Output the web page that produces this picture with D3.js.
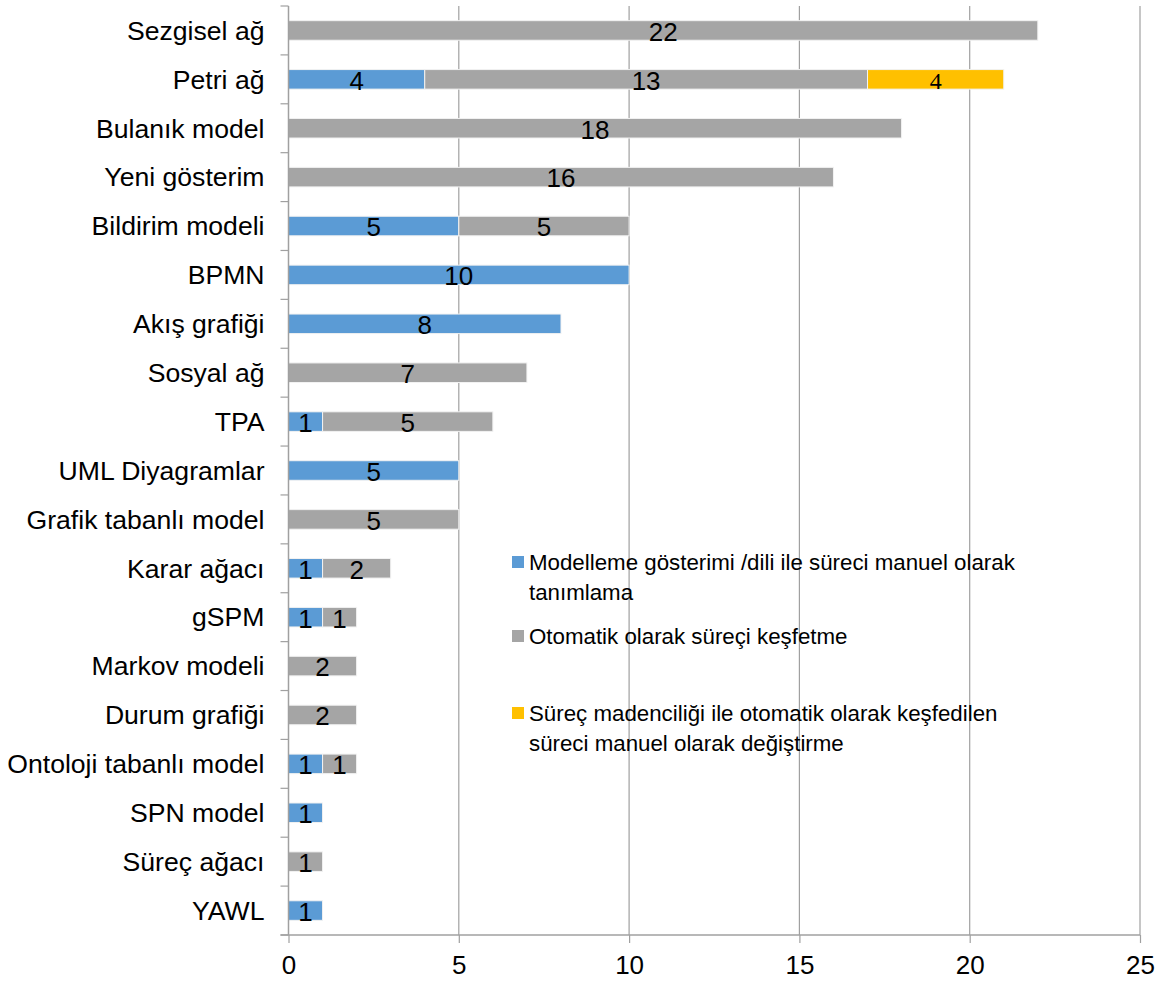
<!DOCTYPE html>
<html>
<head>
<meta charset="utf-8">
<script src="https://cdn.jsdelivr.net/npm/d3@7"></script>
<style>
  body { margin: 0; background: #fff; }
  svg { display: block; font-family: "Liberation Sans", Arial, sans-serif; }
</style>
</head>
<body>
<div id="chart"></div>
<script>
const categories = [
  'Sezgisel ağ', 'Petri ağ', 'Bulanık model', 'Yeni gösterim', 'Bildirim modeli',
  'BPMN', 'Akış grafiği', 'Sosyal ağ', 'TPA', 'UML Diyagramlar',
  'Grafik tabanlı model', 'Karar ağacı', 'gSPM', 'Markov modeli', 'Durum grafiği',
  'Ontoloji tabanlı model', 'SPN model', 'Süreç ağacı', 'YAWL'
];
const manual    = [0, 4, 0, 0, 5, 10, 8, 0, 1, 5, 0, 1, 1, 0, 0, 1, 1, 0, 1];
const automatic = [22, 13, 18, 16, 5, 0, 0, 7, 5, 0, 5, 2, 1, 2, 2, 1, 0, 1, 0];
const modified  = [0, 4, 0, 0, 0, 0, 0, 0, 0, 0, 0, 0, 0, 0, 0, 0, 0, 0, 0];
const seriesNames = [
  'Modelleme gösterimi /dili ile süreci manuel olarak tanımlama',
  'Otomatik olarak süreçi keşfetme',
  'Süreç madenciliği ile otomatik olarak keşfedilen süreci manuel olarak değiştirme'
];
const legendLines = [
  ['Modelleme gösterimi /dili ile süreci manuel olarak', 'tanımlama'],
  ['Otomatik olarak süreçi keşfetme'],
  ['Süreç madenciliği ile otomatik olarak keşfedilen', 'süreci manuel olarak değiştirme']
];
const xTicks = [0, 5, 10, 15, 20, 25];
const colours = ['#5b9bd5', '#a5a5a5', '#ffc000'];

const width = 1168, height = 982;
const margin = { top: 6, right: 28, bottom: 47, left: 288.5 };

const svg = d3.select('#chart').append('svg')
  .attr('width', width)
  .attr('height', height);

const plot = svg.append('g')
  .attr('transform', `translate(${margin.left},${margin.top})`);

const innerW = width - margin.left - margin.right;
const innerH = height - margin.top - margin.bottom;

const x = d3.scaleLinear().domain([0, 25]).range([0, innerW]);
const y = d3.scaleBand().domain(categories).range([0, innerH])
  .paddingInner(0.6).paddingOuter(0.3);

// build stacked rows
const rows = categories.map((c, i) => ({ cat: c, s0: manual[i], s1: automatic[i], s2: modified[i] }));
const stack = d3.stack().keys(['s0', 's1', 's2'])(rows);

// vertical gridlines
plot.append('g')
  .selectAll('line')
  .data(xTicks.filter(d => d > 0))
  .join('line')
    .attr('x1', d => x(d)).attr('x2', d => x(d))
    .attr('y1', 0).attr('y2', innerH)
    .attr('stroke', '#a0a0a0').attr('stroke-width', 1.2);

// bars
stack.forEach((layer, si) => {
  const g = plot.append('g');
  const segs = layer.map((d, i) => ({ x0: d[0], x1: d[1], cat: categories[i], v: d[1] - d[0] }))
    .filter(d => d.v > 0);
  g.selectAll('rect')
    .data(segs)
    .join('rect')
      .attr('x', d => x(d.x0))
      .attr('y', d => y(d.cat))
      .attr('width', d => x(d.x1) - x(d.x0))
      .attr('height', y.bandwidth())
      .attr('fill', colours[si])
      .attr('stroke', '#f2f2f2')
      .attr('stroke-width', 1);
  g.selectAll('text')
    .data(segs)
    .join('text')
      .attr('x', d => x((d.x0 + d.x1) / 2))
      .attr('y', d => y(d.cat) + y.bandwidth() / 2 + 1)
      .attr('dy', '0.36em')
      .attr('text-anchor', 'middle')
      .attr('fill', '#000')
      .style('font-size', si === 2 ? '24px' : '26px')
      .style('font-family', si === 2 ? '"Liberation Serif", "DejaVu Serif", serif' : null)
      .text(d => d.v);
});

// x axis
const xAxis = plot.append('g')
  .attr('transform', `translate(0,${innerH})`)
  .call(d3.axisBottom(x).tickValues(xTicks).tickSize(8).tickPadding(13));
xAxis.select('.domain').attr('stroke', '#a0a0a0').attr('stroke-width', 1.5)
  .attr('d', `M-8,0H${innerW}`);
xAxis.selectAll('.tick line').attr('stroke', '#a0a0a0').attr('stroke-width', 1.2);
xAxis.selectAll('.tick text').attr('font-size', 26).attr('fill', '#000')
  .attr('font-family', '"Liberation Sans", Arial, sans-serif');

// y axis: line + boundary ticks + labels
const yAxis = plot.append('g');
yAxis.append('line')
  .attr('x1', 0).attr('x2', 0).attr('y1', 0).attr('y2', innerH)
  .attr('stroke', '#a0a0a0').attr('stroke-width', 1.5);
const boundaries = d3.range(categories.length + 1).map(i => i * y.step());
yAxis.selectAll('line.b')
  .data(boundaries)
  .join('line')
    .attr('class', 'b')
    .attr('x1', -8).attr('x2', 0)
    .attr('y1', d => d).attr('y2', d => d)
    .attr('stroke', '#a0a0a0').attr('stroke-width', 1.2);
yAxis.selectAll('text')
  .data(categories)
  .join('text')
    .attr('x', -24)
    .attr('y', d => y(d) + y.bandwidth() / 2)
    .attr('dy', '0.35em')
    .attr('text-anchor', 'end')
    .attr('font-size', 26.6)
    .attr('fill', '#000')
    .text(d => d);

// legend
const legendY = [562, 636, 713];
const legend = svg.append('g');
legendLines.forEach((lines, i) => {
  const g = legend.append('g').attr('transform', `translate(512,${legendY[i]})`);
  g.append('rect')
    .attr('x', 0).attr('y', -6).attr('width', 12).attr('height', 12)
    .attr('fill', colours[i]);
  g.append('title').text(seriesNames[i]);
  lines.forEach((t, j) => {
    g.append('text')
      .attr('x', 17)
      .attr('y', j * 30)
      .attr('dy', '0.35em')
      .attr('font-size', 22.3)
      .attr('fill', '#000')
      .text(t);
  });
});
</script>
</body>
</html>
